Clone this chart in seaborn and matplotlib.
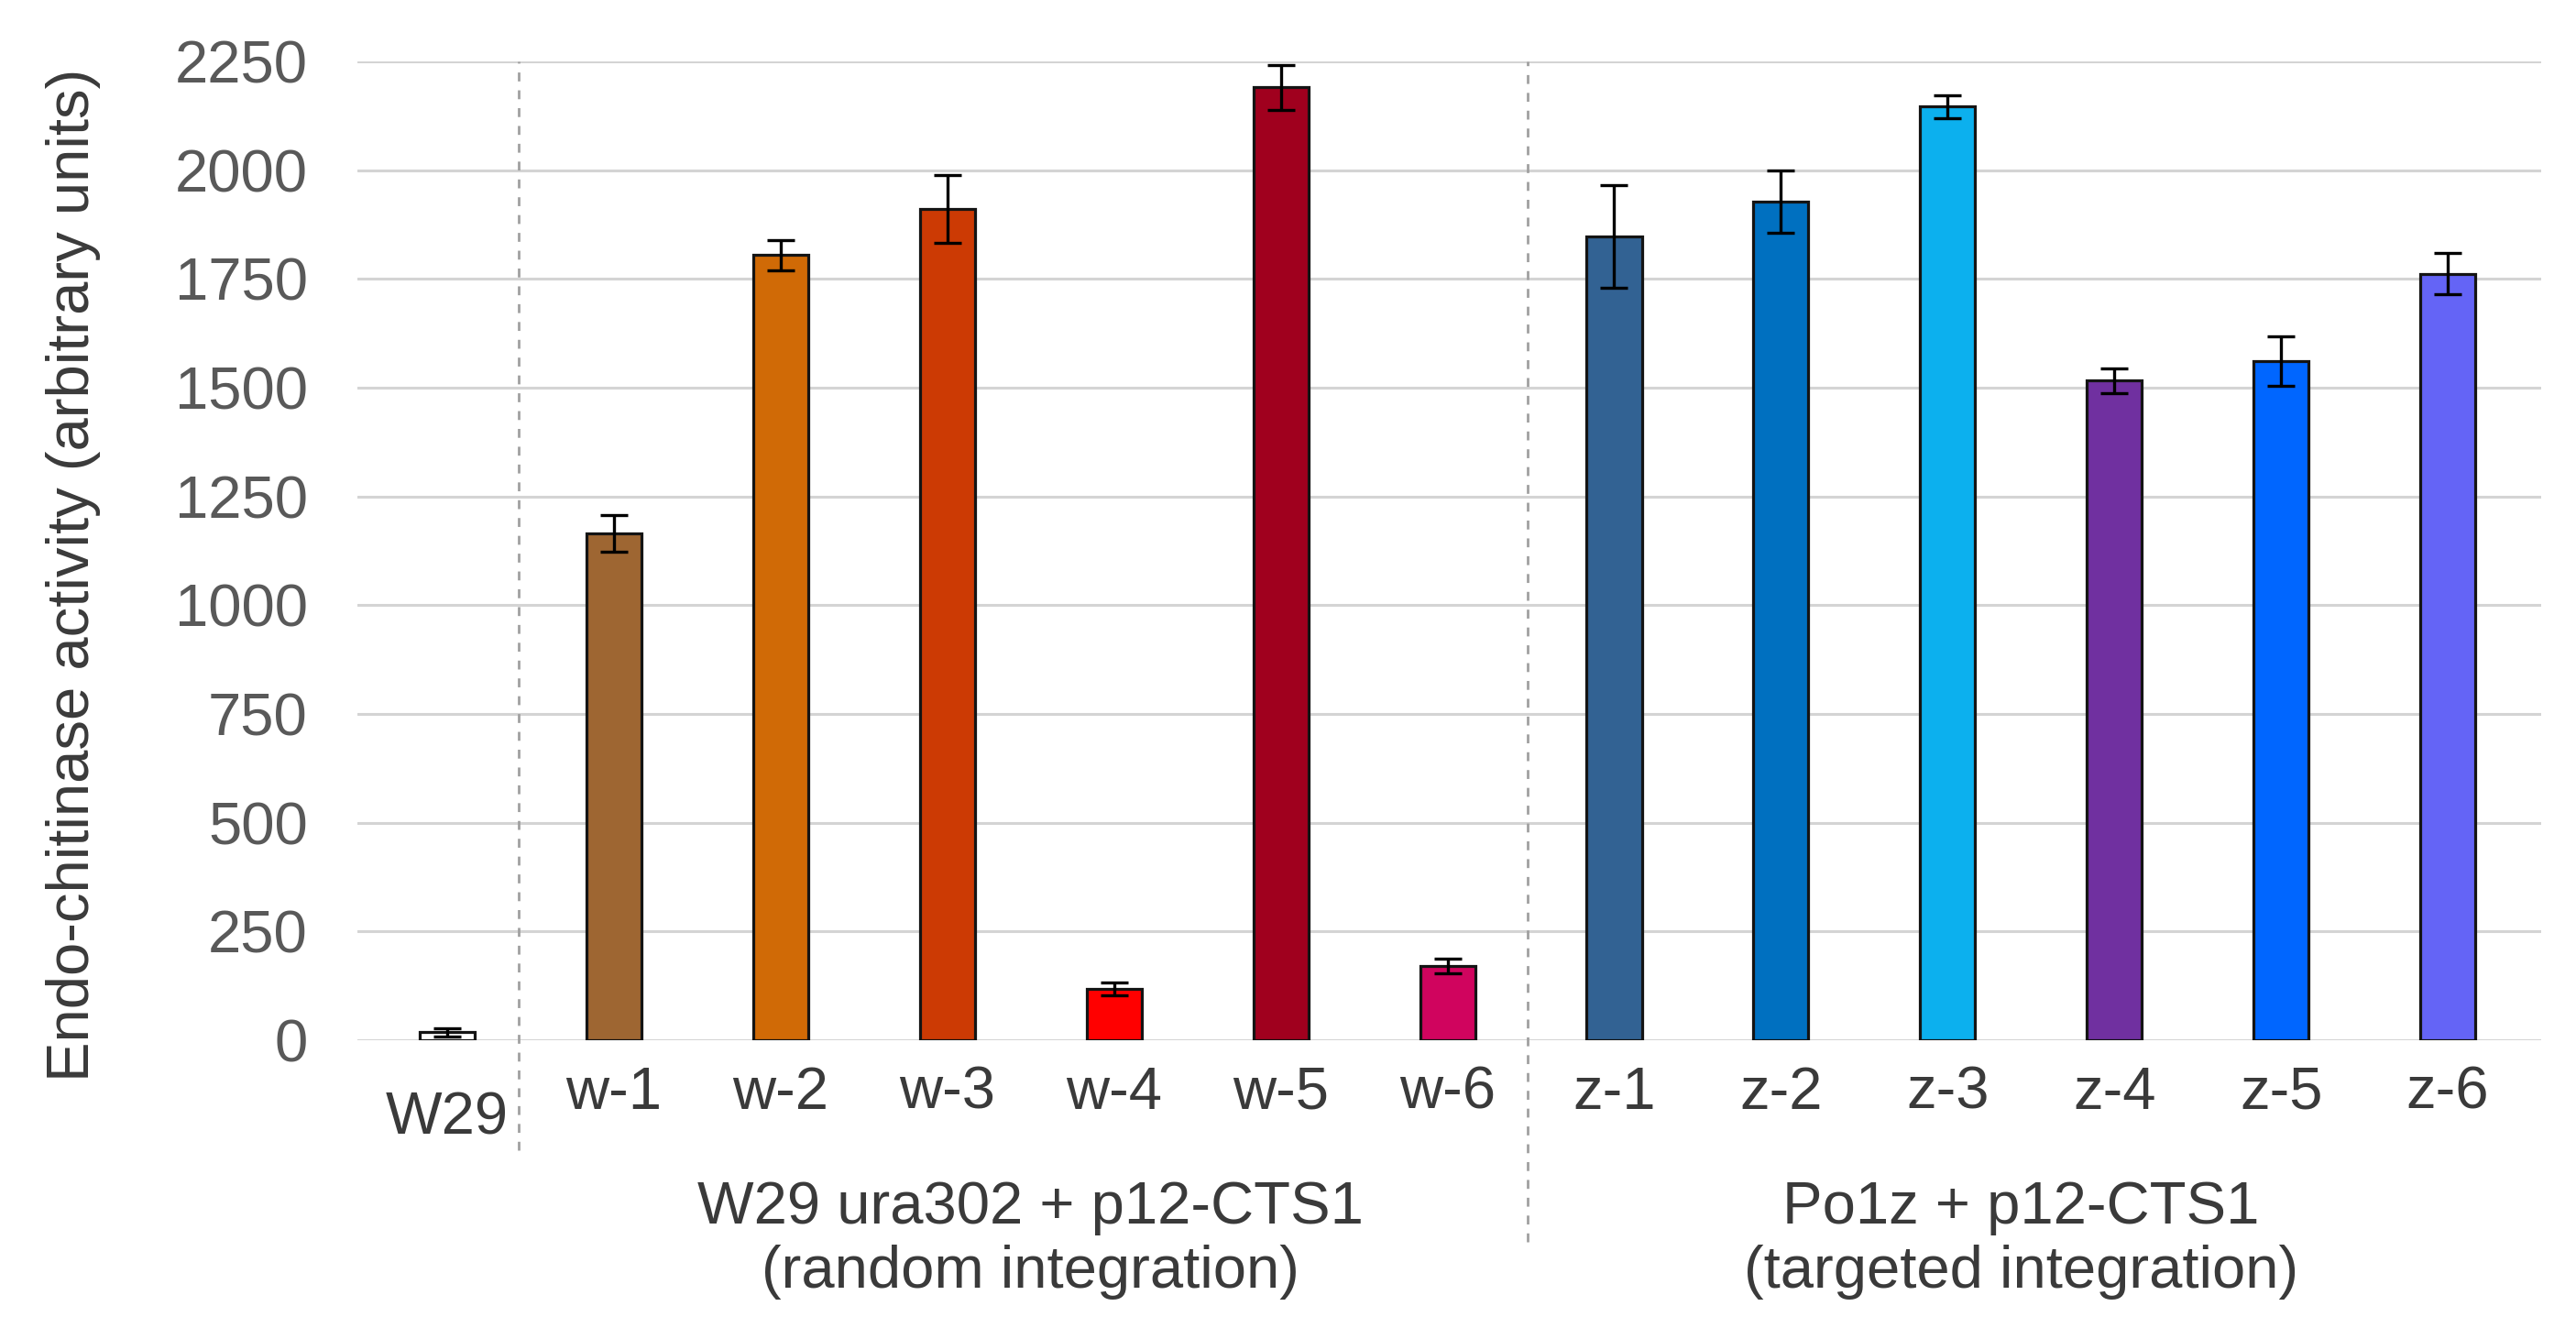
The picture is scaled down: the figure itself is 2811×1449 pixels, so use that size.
import matplotlib
matplotlib.use("Agg")
import matplotlib.pyplot as plt
import matplotlib.transforms as mtransforms
import pandas as pd
import seaborn as sns

# values
strains = ["W29", "w-1", "w-2", "w-3", "w-4", "w-5", "w-6",
           "z-1", "z-2", "z-3", "z-4", "z-5", "z-6"]
activity = [18, 1165, 1805, 1910, 118, 2190, 170,
            1848, 1928, 2146, 1516, 1561, 1762]
errors = [10, 43, 35, 78, 15, 52, 17,
          118, 72, 26, 28, 57, 47]
bar_colors = ["#ffffff", "#9e6632", "#d06a06", "#cc3a04", "#ff0000", "#a0001e", "#d0045e",
              "#326293", "#0070c0", "#0cb0ee", "#7030a0", "#0066ff", "#6464f6"]
group_labels = ["W29 ura302 + p12-CTS1\n(random integration)",
                "Po1z + p12-CTS1\n(targeted integration)"]
group_centers = [3.5, 9.44]
divider_x = [0.43, 6.48]
divider_ymin = [-0.112, -0.206]
y_ticks = list(range(0, 2251, 250))

df = pd.DataFrame({"strain": strains, "activity": activity})

sns.set_theme(style="white")
plt.rcParams["font.family"] = ["Liberation Sans", "DejaVu Sans"]

fig = plt.figure(figsize=(28.11, 14.49), dpi=100)
ax = fig.add_axes([0.1387, 0.2167, 0.8478, 0.7371])

sns.barplot(data=df, x="strain", y="activity", hue="strain", palette=bar_colors,
            legend=False, width=0.33, saturation=1, errorbar=None,
            edgecolor="#141414", linewidth=2.3, ax=ax)
ax.errorbar(range(len(strains)), activity, yerr=errors, fmt="none",
            ecolor="black", elinewidth=2.4, capsize=11, capthick=2.4, zorder=5)

ax.set_xlim(-0.539, 12.56)
ax.set_ylim(0, 2250)
ax.set_yticks(y_ticks)
ax.yaxis.grid(True, color="#d4d4d4", linewidth=2.2)
ax.set_axisbelow(True)
for s in ax.spines.values():
    s.set_visible(False)

ax.tick_params(axis="y", labelsize=47, labelcolor="#595959", pad=39, length=0)
ax.tick_params(axis="x", labelsize=47, labelcolor="#3a3a3a", pad=20, length=0)
ax.set_xlabel("")
ax.set_ylabel("Endo-chitinase activity (arbitrary units)", fontsize=47, color="#3a3a3a")
ax.yaxis.set_label_coords(-0.1175, 0.475)

# W29 label sits a bit lower than the others
for lbl in ax.get_xticklabels():
    if lbl.get_text() == strains[0]:
        lbl.set_transform(lbl.get_transform() +
                          mtransforms.ScaledTranslation(0, -0.28, fig.dpi_scale_trans))

blend = mtransforms.blended_transform_factory(ax.transData, ax.transAxes)
for xc, txt in zip(group_centers, group_labels):
    ax.text(xc, -0.204, txt, transform=blend, ha="center", va="center",
            fontsize=47, color="#3a3a3a", linespacing=1.2, clip_on=False)

for xd, ymin in zip(divider_x, divider_ymin):
    ax.axvline(xd, ymin=ymin, ymax=1, clip_on=False, color="#a0a0a0",
               linewidth=2, linestyle=(0, (3.5, 3.5)))

fig.savefig("out.png", dpi=100, facecolor="white")
